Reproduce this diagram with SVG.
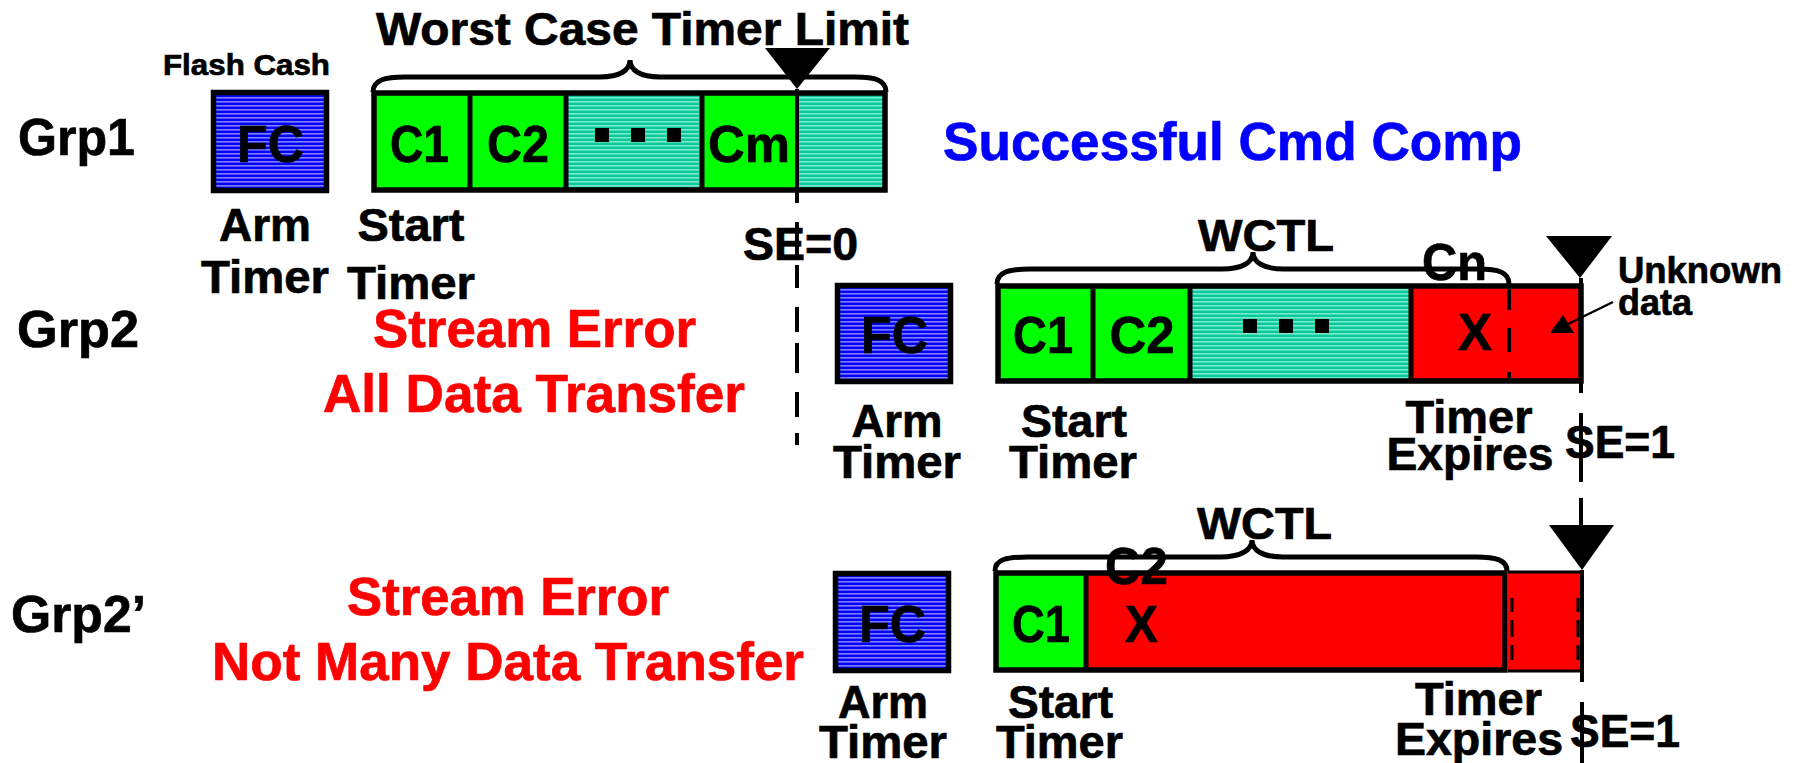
<svg xmlns="http://www.w3.org/2000/svg" width="1804" height="763" viewBox="0 0 1804 763">
<style>
.t{font-family:"Liberation Sans",Arial,sans-serif;font-weight:bold;fill:#000;stroke:#000;stroke-width:0.7}
.big{font-size:52px}
.lab{font-size:46px}
.red{fill:#FF0000;stroke:#FF0000;font-size:53px}
.blue{fill:#0000FF;stroke:#0000FF;font-size:53px}
.ol{fill:none;stroke:#000;stroke-width:5.5}
.dv{stroke:#000;stroke-width:5}
.br{fill:none;stroke:#000;stroke-width:5}
.dash{fill:none;stroke:#000;stroke-width:4}
</style>
<defs>
<pattern id="blue" width="8" height="4" patternUnits="userSpaceOnUse"><rect width="8" height="4" fill="#0000FF"/><rect y="1.5" width="8" height="0.8" fill="#FFFFFF"/></pattern>
<pattern id="teal" width="8" height="4" patternUnits="userSpaceOnUse"><rect width="8" height="4" fill="#00CC99"/><rect y="1.5" width="8" height="0.8" fill="#FFFFFF"/></pattern>
</defs>
<rect width="1804" height="763" fill="#FFFFFF"/>

<g id="labels">
<text class="t big" x="18" y="155" textLength="117" lengthAdjust="spacingAndGlyphs">Grp1</text>
<text class="t big" x="17" y="347" textLength="122" lengthAdjust="spacingAndGlyphs">Grp2</text>
<text class="t big" x="11" y="632" textLength="135" lengthAdjust="spacingAndGlyphs">Grp2’</text>
<text class="t" x="376" y="45" font-size="46" textLength="533" lengthAdjust="spacingAndGlyphs">Worst Case Timer Limit</text>
<text class="t blue" x="943" y="160" textLength="579" lengthAdjust="spacingAndGlyphs">Successful Cmd Comp</text>
<text class="t red" x="534.5" y="347" text-anchor="middle" textLength="323" lengthAdjust="spacingAndGlyphs">Stream Error</text>
<text class="t red" x="534" y="412" text-anchor="middle" textLength="422" lengthAdjust="spacingAndGlyphs">All Data Transfer</text>
<text class="t red" x="508" y="615" text-anchor="middle" textLength="322" lengthAdjust="spacingAndGlyphs">Stream Error</text>
<text class="t red" x="508" y="680" text-anchor="middle" textLength="592" lengthAdjust="spacingAndGlyphs">Not Many Data Transfer</text>
</g>

<!-- Grp1 -->
<g id="fc1">
<text class="t" x="246.5" y="75" font-size="30" text-anchor="middle" textLength="167" lengthAdjust="spacingAndGlyphs">Flash Cash</text>
<rect x="213.5" y="92.5" width="113" height="98" fill="url(#blue)" stroke="#000" stroke-width="5.5"/>
<text class="t big" x="270.5" y="162" text-anchor="middle" textLength="67" lengthAdjust="spacingAndGlyphs">FC</text>
<text class="t lab" x="265" y="241" text-anchor="middle" textLength="92" lengthAdjust="spacingAndGlyphs">Arm</text>
<text class="t lab" x="265" y="293" text-anchor="middle" textLength="128" lengthAdjust="spacingAndGlyphs">Timer</text>
</g>
<g id="bar1">
<rect x="374" y="93" width="96" height="97" fill="#00FF00"/>
<rect x="470" y="93" width="96" height="97" fill="#00FF00"/>
<rect x="566" y="93" width="136" height="97" fill="url(#teal)"/>
<rect x="702" y="93" width="96" height="97" fill="#00FF00"/>
<rect x="798" y="93" width="87" height="97" fill="url(#teal)"/>
<path class="dv" d="M470 93V190M566 93V190M702 93V190"/>
<rect class="ol" x="374" y="93" width="511" height="97"/>
<text class="t big" x="419.5" y="162" text-anchor="middle" textLength="59" lengthAdjust="spacingAndGlyphs">C1</text>
<text class="t big" x="518" y="162" text-anchor="middle" textLength="62" lengthAdjust="spacingAndGlyphs">C2</text>
<text class="t big" x="749" y="162" text-anchor="middle" textLength="82" lengthAdjust="spacingAndGlyphs">Cm</text>
<rect x="595" y="128" width="14" height="14"/>
<rect x="631" y="128" width="14" height="14"/>
<rect x="667" y="128" width="14" height="14"/>
<path class="br" d="M373 92C373 80 385 77 405 77H600C620 77 630 70 630 60C630 70 640 77 660 77H855C875 77 886 80 886 92"/>
<text class="t lab" x="411" y="241" text-anchor="middle" textLength="107" lengthAdjust="spacingAndGlyphs">Start</text>
<text class="t lab" x="411" y="299" text-anchor="middle" textLength="128" lengthAdjust="spacingAndGlyphs">Timer</text>
<text class="t lab" x="743" y="260" textLength="115" lengthAdjust="spacingAndGlyphs">SE=0</text>
</g>

<!-- Grp2 -->
<g id="fc2">
<rect x="837.5" y="285.5" width="113" height="96" fill="url(#blue)" stroke="#000" stroke-width="5.5"/>
<text class="t big" x="894.5" y="353" text-anchor="middle" textLength="67" lengthAdjust="spacingAndGlyphs">FC</text>
<text class="t lab" x="897" y="437" text-anchor="middle" textLength="91" lengthAdjust="spacingAndGlyphs">Arm</text>
<text class="t lab" x="897" y="478" text-anchor="middle" textLength="128" lengthAdjust="spacingAndGlyphs">Timer</text>
</g>
<g id="bar2">
<rect x="998" y="286" width="95" height="95" fill="#00FF00"/>
<rect x="1093" y="286" width="97" height="95" fill="#00FF00"/>
<rect x="1190" y="286" width="221" height="95" fill="url(#teal)"/>
<rect x="1411" y="286" width="170" height="95" fill="#FF0000"/>
<path class="dv" d="M1093 286V381M1190 286V381M1411 286V381"/>
<path class="dash" d="M1509 288V310M1509 328V352M1509 372V383"/>
<rect class="ol" x="998" y="286" width="583" height="95"/>
<text class="t big" x="1043" y="353" text-anchor="middle" textLength="60" lengthAdjust="spacingAndGlyphs">C1</text>
<text class="t big" x="1142" y="353" text-anchor="middle" textLength="65" lengthAdjust="spacingAndGlyphs">C2</text>
<text class="t big" x="1475" y="350" text-anchor="middle" textLength="34" lengthAdjust="spacingAndGlyphs">X</text>
<rect x="1243" y="319" width="14" height="14"/>
<rect x="1279" y="319" width="14" height="14"/>
<rect x="1315" y="319" width="14" height="14"/>
<path class="br" d="M997 284C997 272 1009 269 1030 269H1222C1243 269 1253 262 1253 252C1253 262 1263 269 1284 269H1478C1498 269 1509 272 1509 284"/>
<text class="t" x="1266" y="251" font-size="45" text-anchor="middle" textLength="136" lengthAdjust="spacingAndGlyphs">WCTL</text>
<text class="t big" x="1454.5" y="280" text-anchor="middle" textLength="65" lengthAdjust="spacingAndGlyphs">Cn</text>
<text class="t lab" x="1074" y="437" text-anchor="middle" textLength="106" lengthAdjust="spacingAndGlyphs">Start</text>
<text class="t lab" x="1073" y="478" text-anchor="middle" textLength="128" lengthAdjust="spacingAndGlyphs">Timer</text>
<text class="t lab" x="1469" y="433" text-anchor="middle" textLength="127" lengthAdjust="spacingAndGlyphs">Timer</text>
<text class="t lab" x="1470" y="470" text-anchor="middle" textLength="167" lengthAdjust="spacingAndGlyphs">Expires</text>
<text class="t lab" x="1565" y="458" textLength="110" lengthAdjust="spacingAndGlyphs">SE=1</text>
<text class="t" x="1618" y="283" font-size="37" textLength="164" lengthAdjust="spacingAndGlyphs">Unknown</text>
<text class="t" x="1618" y="315" font-size="37" textLength="74" lengthAdjust="spacingAndGlyphs">data</text>
</g>

<!-- Grp2' -->
<g id="fc3">
<rect x="835.5" y="573.5" width="113" height="97" fill="url(#blue)" stroke="#000" stroke-width="5.5"/>
<text class="t big" x="892.5" y="642" text-anchor="middle" textLength="67" lengthAdjust="spacingAndGlyphs">FC</text>
<text class="t lab" x="883" y="718" text-anchor="middle" textLength="90" lengthAdjust="spacingAndGlyphs">Arm</text>
<text class="t lab" x="883" y="758" text-anchor="middle" textLength="128" lengthAdjust="spacingAndGlyphs">Timer</text>
</g>
<g id="bar3">
<rect x="996" y="573" width="90" height="97" fill="#00FF00"/>
<rect x="1086" y="573" width="419" height="97" fill="#FF0000"/>
<rect x="1508" y="572" width="73" height="99" fill="#FF0000"/>
<path d="M1508 572H1581M1508 671H1581" stroke="#000" stroke-width="3"/>
<path d="M1512 598V612M1512 620V637M1512 645V660M1578 598V612M1578 620V637M1578 645V660" stroke="#000" stroke-width="3"/>
<path class="dv" d="M1086 573V670"/>
<rect class="ol" x="996" y="573" width="509" height="97"/>
<text class="t big" x="1041" y="642" text-anchor="middle" textLength="58" lengthAdjust="spacingAndGlyphs">C1</text>
<text class="t big" x="1141.5" y="642" text-anchor="middle" textLength="33" lengthAdjust="spacingAndGlyphs">X</text>
<path class="br" d="M995 571C995 559 1007 557 1028 557H1220C1241 557 1252 550 1252 540C1252 550 1262 557 1283 557H1476C1496 557 1507 560 1507 571"/>
<text class="t big" x="1136.5" y="584" text-anchor="middle" textLength="63" lengthAdjust="spacingAndGlyphs">C2</text>
<text class="t" x="1264.5" y="539" font-size="45" text-anchor="middle" textLength="135" lengthAdjust="spacingAndGlyphs">WCTL</text>
<text class="t lab" x="1060.5" y="718" text-anchor="middle" textLength="105" lengthAdjust="spacingAndGlyphs">Start</text>
<text class="t lab" x="1059.5" y="758" text-anchor="middle" textLength="127" lengthAdjust="spacingAndGlyphs">Timer</text>
<text class="t lab" x="1478.5" y="715" text-anchor="middle" textLength="127" lengthAdjust="spacingAndGlyphs">Timer</text>
<text class="t lab" x="1479" y="755" text-anchor="middle" textLength="168" lengthAdjust="spacingAndGlyphs">Expires</text>
<text class="t lab" x="1570" y="747" textLength="110" lengthAdjust="spacingAndGlyphs">SE=1</text>
</g>

<g id="connectors">
<polygon points="765,48 830,48 797,89"/>
<path class="dash" d="M797 89V203M797 222V260M797 265V288M797 307V332M797 343V373M797 392V417M797 433V445"/>
<polygon points="1546,236 1612,236 1580,278"/>
<path class="dash" d="M1581 278V393M1581 413V482M1581 498V525"/>
<polygon points="1549,525 1614,525 1582,570"/>
<path class="dash" d="M1582 570V682M1582 702V763"/>
<path d="M1613 302L1566 325" stroke="#000" stroke-width="2.5"/>
<polygon points="1550,333 1574,333 1563,315"/>
</g>
</svg>
